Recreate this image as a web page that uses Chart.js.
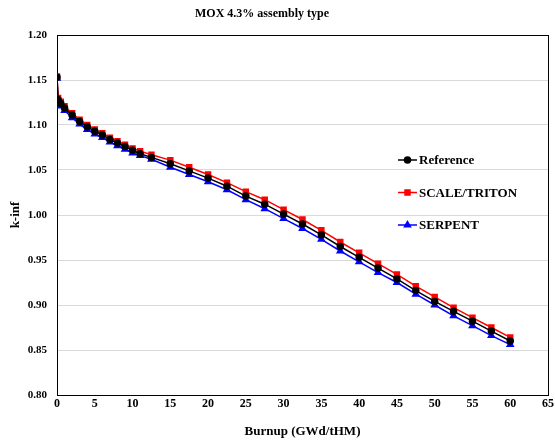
<!DOCTYPE html>
<html>
<head>
<meta charset="utf-8">
<script src="https://cdn.jsdelivr.net/npm/chart.js@4/dist/chart.umd.min.js"></script>
<style>
    body { margin: 0; background: #fff; }
    #wrap { width: 555px; height: 440px; }
</style>
</head>
<body>
<div id="wrap"><canvas id="kinfChart" width="555" height="440"></canvas></div>
<script>
const burnup = [0, 0.15, 0.5, 1, 2, 3, 4, 5, 6, 7, 8, 9, 10, 11, 12.5, 15, 17.5, 20, 22.5, 25,
    27.5, 30, 32.5, 35, 37.5, 40, 42.5, 45, 47.5, 50, 52.5, 55, 57.5, 60];

const reference = [1.153, 1.128, 1.124, 1.119, 1.111, 1.104, 1.098, 1.093, 1.089, 1.084, 1.080, 1.076,
    1.072, 1.068, 1.064, 1.057, 1.049, 1.041, 1.032, 1.021, 1.012, 1.001, 0.990, 0.978, 0.965, 0.953,
    0.941, 0.929, 0.916, 0.904, 0.893, 0.882, 0.871, 0.860];

const scaleTriton = [1.154, 1.130, 1.126, 1.121, 1.113, 1.106, 1.100, 1.095, 1.091, 1.086, 1.082, 1.078,
    1.074, 1.071, 1.067, 1.061, 1.053, 1.045, 1.036, 1.026, 1.017, 1.006, 0.995, 0.983, 0.970, 0.958,
    0.946, 0.934, 0.921, 0.909, 0.897, 0.886, 0.875, 0.864];

const serpent = [1.152, 1.125, 1.121, 1.116, 1.108, 1.101, 1.095, 1.090, 1.086, 1.081, 1.077, 1.073,
    1.069, 1.066, 1.062, 1.053, 1.045, 1.037, 1.028, 1.017, 1.007, 0.996, 0.985, 0.973, 0.960, 0.948,
    0.936, 0.925, 0.912, 0.900, 0.888, 0.877, 0.866, 0.856];

const xTicks = [0, 5, 10, 15, 20, 25, 30, 35, 40, 45, 50, 55, 60, 65];
const yTicks = [0.80, 0.85, 0.90, 0.95, 1.00, 1.05, 1.10, 1.15, 1.20];

const seriesNames = ['Reference', 'SCALE/TRITON', 'SERPENT'];
const chartTitle = 'MOX 4.3% assembly type';

const FONT = "'Liberation Serif', 'Times New Roman', serif";

function toPoints(values) {
    return burnup.map((x, i) => ({ x, y: values[i] }));
}

// --- frame round the plot area ---
const framePlugin = {
    id: 'frame',
    beforeDatasetsDraw(chart) {
        const { ctx, chartArea: a } = chart;
        ctx.save();
        ctx.strokeStyle = '#000';
        ctx.lineWidth = 1;
        ctx.strokeRect(a.left + 0.5, a.top + 0.5, a.right - a.left, a.bottom - a.top);
        ctx.restore();
    }
};

// --- title, Excel places it off the plot centre ---
const topTitle = {
    id: 'topTitle',
    afterDraw(chart, args, opts) {
        const { ctx } = chart;
        ctx.save();
        ctx.fillStyle = '#000';
        ctx.font = 'bold 12px ' + FONT;
        ctx.textAlign = 'center';
        ctx.textBaseline = 'middle';
        ctx.fillText(opts.text, opts.x, opts.y);
        ctx.restore();
    }
};

// --- legend inside plot ---
const insideLegend = {
    id: 'insideLegend',
    afterDraw(chart, args, opts) {
        const { ctx } = chart;
        ctx.save();
        chart.data.datasets.forEach((ds, i) => {
            const y = opts.y + i * opts.gap;
            ctx.strokeStyle = ds.borderColor;
            ctx.lineWidth = 1.5;
            ctx.beginPath();
            ctx.moveTo(opts.x, y);
            ctx.lineTo(opts.x + 19, y);
            ctx.stroke();
            ctx.fillStyle = ds.pointBackgroundColor;
            ctx.strokeStyle = ds.pointBorderColor;
            Chart.helpers.drawPoint(ctx, {
                pointStyle: ds.pointStyle,
                radius: ds.pointRadius,
                borderWidth: 1
            }, opts.x + 9.5, y);
            ctx.fillStyle = '#000';
            ctx.font = 'bold 13px ' + FONT;
            ctx.textBaseline = 'middle';
            ctx.fillText(ds.label, opts.x + 21, y + 1);
        });
        ctx.restore();
    }
};

const ctx = document.getElementById('kinfChart').getContext('2d');

new Chart(ctx, {
    type: 'line',
    data: {
        datasets: [{
            label: seriesNames[0],
            data: toPoints(reference),
            borderColor: '#000000',
            backgroundColor: '#000000',
            pointBackgroundColor: '#000000',
            pointBorderColor: '#000000',
            pointStyle: 'circle',
            pointRadius: 3,
            borderWidth: 1.5
        }, {
            label: seriesNames[1],
            data: toPoints(scaleTriton),
            borderColor: '#ff0000',
            backgroundColor: '#ff0000',
            pointBackgroundColor: '#ff0000',
            pointBorderColor: '#ff0000',
            pointStyle: 'rect',
            pointRadius: 3.5,
            borderWidth: 1.5
        }, {
            label: seriesNames[2],
            data: toPoints(serpent),
            borderColor: '#0000ff',
            backgroundColor: '#0000ff',
            pointBackgroundColor: '#0000ff',
            pointBorderColor: '#0000ff',
            pointStyle: 'triangle',
            pointRadius: 3.5,
            borderWidth: 1.5
        }]
    },
    options: {
        responsive: false,
        animation: false,
        layout: { padding: { top: 35, right: 7, left: 0, bottom: 0 } },
        plugins: {
            legend: { display: false },
            tooltip: { enabled: false },
            title: { display: false },
            topTitle: { text: chartTitle, x: 262, y: 14 },
            insideLegend: { x: 398, y: 160, gap: 32.5 }
        },
        scales: {
            x: {
                type: 'linear',
                min: 0,
                max: 65,
                afterBuildTicks: scale => { scale.ticks = xTicks.map(v => ({ value: v })); },
                afterFit: scale => { scale.height = 45; scale.paddingLeft = 0; scale.paddingRight = 0; },
                grid: { display: false, drawTicks: false },
                border: { display: false },
                ticks: {
                    color: '#000',
                    padding: 2,
                    font: { family: FONT, size: 12, weight: 'bold' }
                },
                title: {
                    display: true,
                    text: 'Burnup (GWd/tHM)',
                    color: '#000',
                    font: { family: FONT, size: 13, weight: 'bold' },
                    padding: { top: 0, bottom: 1 }
                }
            },
            y: {
                min: 0.80,
                max: 1.20,
                afterBuildTicks: scale => { scale.ticks = yTicks.map(v => ({ value: v })); },
                afterFit: scale => { scale.width = 57; scale.paddingTop = 0; scale.paddingBottom = 0; },
                grid: { color: '#d9d9d9', lineWidth: 1, drawTicks: false },
                border: { display: false },
                ticks: {
                    color: '#000',
                    padding: 10,
                    font: { family: FONT, size: 11, weight: 'bold' },
                    callback: v => v.toFixed(2)
                },
                title: {
                    display: true,
                    text: 'k-inf',
                    color: '#000',
                    font: { family: FONT, size: 13, weight: 'bold' },
                    padding: { top: 8, bottom: 0 }
                }
            }
        }
    },
    plugins: [framePlugin, topTitle, insideLegend]
});
</script>
</body>
</html>
